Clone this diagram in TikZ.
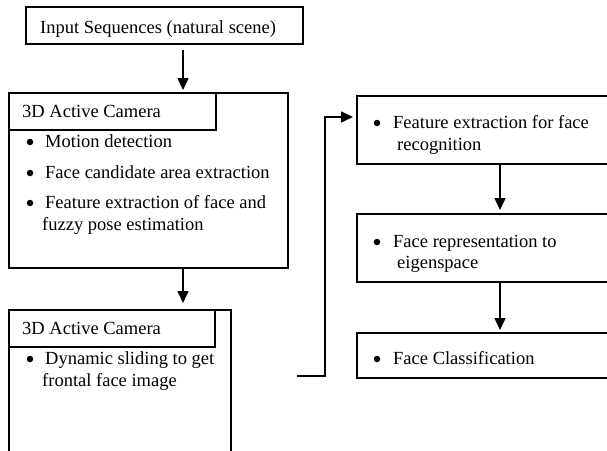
\documentclass[tikz,border=0pt]{standalone}
\usepackage{fontspec}
\setmainfont{Liberation Serif}
\usetikzlibrary{arrows.meta}
\begin{document}
\begin{tikzpicture}[x=1pt,y=-1pt,
  box/.style={draw,line width=1.5pt,rectangle,inner sep=0pt,anchor=north west},
  txt/.style={anchor=base west,inner sep=0pt,font=\fontsize{18.5}{22}\selectfont},
  bul/.style={circle,fill,inner sep=0pt,minimum size=6.5pt},
  arr/.style={line width=1.5pt,-{Triangle[length=12pt,width=11pt]}}]
\useasboundingbox (0,0) rectangle (607,450);
\clip (0,0) rectangle (607,450);
% left column
\node[box,minimum width=277pt,minimum height=37pt] (inp) at (25,6) {};
\node[txt] (inpt) at (40,33.5) {Input Sequences (natural scene)};
\node[box,minimum width=279pt,minimum height=175pt] (cam1) at (8,92) {};
\node[box,minimum width=207pt,minimum height=37pt] (cam1h) at (8,92) {};
\node[txt] (cam1t) at (22,117) {3D Active Camera};
\node[bul] (b1) at (30,142) {};
\node[txt] (t1) at (45,147) {Motion detection};
\node[bul] (b2) at (30,173) {};
\node[txt] (t2) at (45,178) {Face candidate area extraction};
\node[bul] (b3) at (30,203) {};
\node[txt] (t3) at (45,208) {Feature extraction of face and};
\node[txt] (t3b) at (42,230) {fuzzy pose estimation};
\node[box,minimum width=222pt,minimum height=170pt] (cam2) at (8,309) {};
\node[box,minimum width=206pt,minimum height=37pt] (cam2h) at (8,309) {};
\node[txt] (cam2t) at (22,334) {3D Active Camera};
\node[bul] (b4) at (30,359) {};
\node[txt] (t4) at (45,364) {Dynamic sliding to get};
\node[txt] (t4b) at (42,386) {frontal face image};
% right column
\node[box,minimum width=290pt,minimum height=68pt] (r1) at (356,95) {};
\node[bul] (b5) at (377,123) {};
\node[txt] (t5) at (393,128) {Feature extraction for face};
\node[txt] (t5b) at (397,150) {recognition};
\node[box,minimum width=290pt,minimum height=68pt] (r2) at (356,213) {};
\node[bul] (b6) at (377,242) {};
\node[txt] (t6) at (393,247) {Face representation to};
\node[txt] (t6b) at (397,268) {eigenspace};
\node[box,minimum width=290pt,minimum height=45pt] (r3) at (356,332) {};
\node[bul] (b7) at (377,359) {};
\node[txt] (t7) at (393,364) {Face Classification};
% connectors
\coordinate (ax) at (183,0);
\coordinate (bx) at (500,0);
\draw[arr,shorten <=5pt,shorten >=2pt] (inp.south -| ax) -- (cam1.north -| ax);
\draw[arr,shorten >=6pt] (cam1.south -| ax) -- (cam2.north -| ax);
\draw[arr,shorten >=3pt] (r1.south -| bx) -- (r2.north -| bx);
\draw[arr,shorten >=2pt] (r2.south -| bx) -- (r3.north -| bx);
\coordinate (c0) at (297,376);
\coordinate (c1) at (325,376);
\coordinate (c2) at (325,117);
\draw[arr,shorten >=3pt] (c0) -- (c1) -- (c2) -- (c2 -| r1.west);
\end{tikzpicture}
\end{document}
